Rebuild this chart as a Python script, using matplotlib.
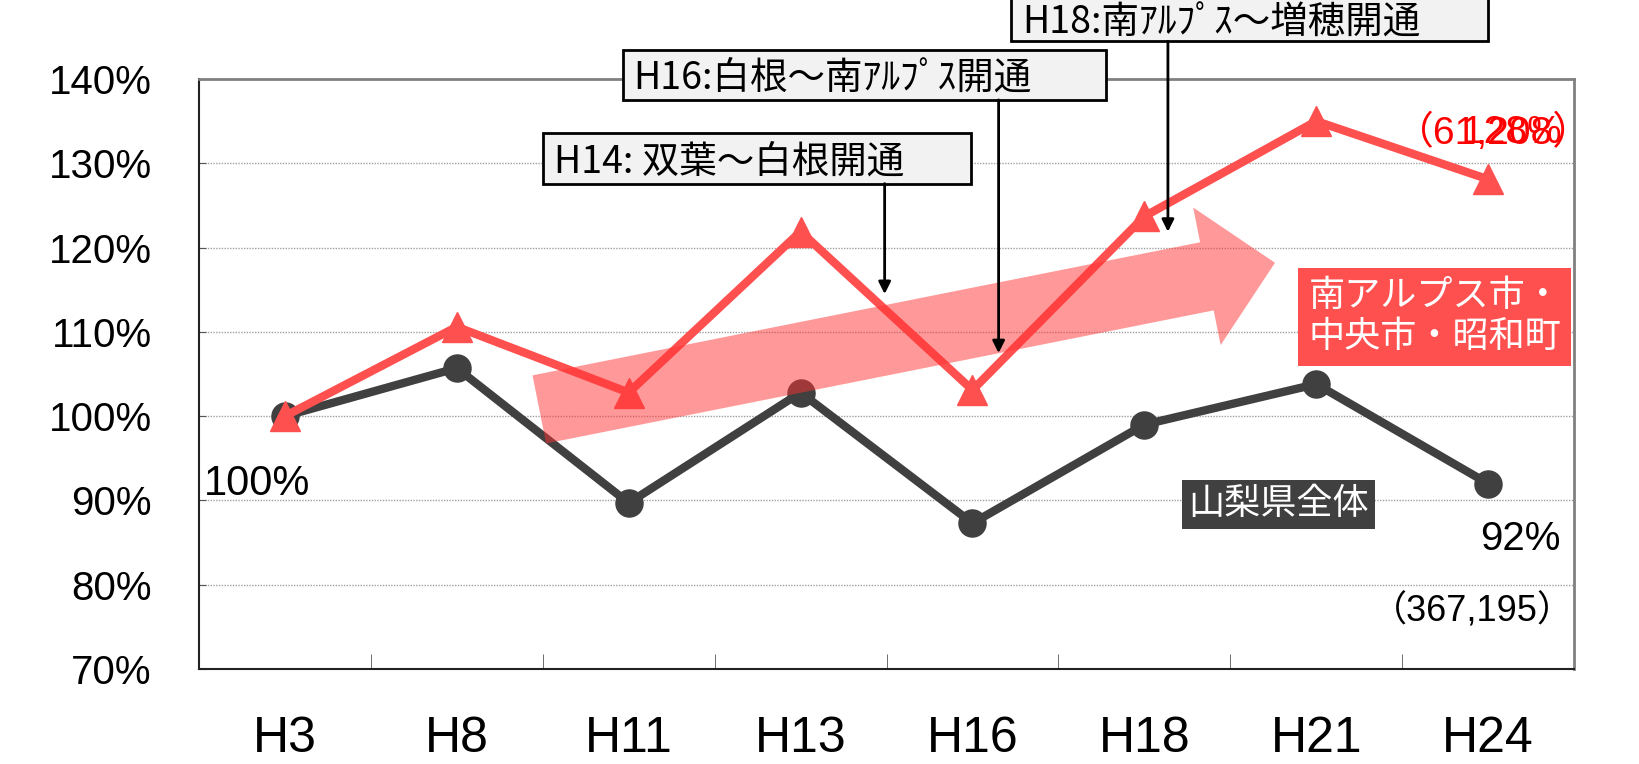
import matplotlib
matplotlib.use("Agg")
import matplotlib.pyplot as plt
from matplotlib.patches import FancyArrowPatch, Rectangle, ArrowStyle

plt.rcParams['font.family'] = ['Liberation Sans', 'Noto Sans CJK JP', 'DejaVu Sans']
JP = ['Noto Sans CJK JP', 'DejaVu Sans']
NARROW = ['Liberation Sans Narrow', 'Liberation Sans', 'Noto Sans CJK JP']

years = ['H3', 'H8', 'H11', 'H13', 'H16', 'H18', 'H21', 'H24']
minami = [100.0, 110.6, 102.8, 121.9, 103.1, 123.7, 135.0, 128.1]   # 南アルプス市・中央市・昭和町
kenzen = [100.0, 105.7, 89.7, 102.8, 87.3, 99.0, 103.8, 92.0]       # 山梨県全体
yticks = [70, 80, 90, 100, 110, 120, 130, 140]

RED = '#FF5050'
DARK = '#404040'

fig = plt.figure(figsize=(16.39, 7.64), dpi=100)
ax = fig.add_axes([0.1214, 0.1243, 0.839, 0.7723])
x = list(range(len(years)))

ax.plot(x, kenzen, color=DARK, lw=6, marker='o', ms=19.5, zorder=3)
ax.plot(x, minami, color=RED, lw=6, marker='^', ms=22, zorder=3)

ax.set_xlim(-0.5, 7.5)
ax.set_ylim(70, 140)
ax.set_yticks(yticks)
ax.set_yticklabels([f'{v}%' for v in yticks], fontsize=29)
ax.set_xticks(x)
ax.set_xticklabels(years, fontsize=36, family=NARROW)
ax.set_xticks([i + 0.5 for i in range(7)], minor=True)
ax.tick_params(axis='x', which='major', length=0, pad=34)
ax.tick_params(axis='x', which='minor', direction='in', length=11, color='#555555')
ax.tick_params(axis='y', direction='in', length=5, pad=34, color='#555555')
for v in yticks[1:-1]:
    ax.axhline(v, color='#A0A0A0', lw=1, ls=(0, (1, 1)), zorder=1)
for s in ['top', 'right']:
    ax.spines[s].set_color('#808080')
    ax.spines[s].set_linewidth(2)
for s in ['left', 'bottom']:
    ax.spines[s].set_color('#222222')
    ax.spines[s].set_linewidth(1.5)

# big trend arrow
arr = FancyArrowPatch((1.48, 100.8), (5.76, 118.2),
                      arrowstyle=ArrowStyle.Simple(head_length=50, head_width=101, tail_width=50),
                      mutation_scale=1, shrinkA=0, shrinkB=0,
                      fc='#FF3333', ec='none', alpha=0.5, zorder=4)
ax.add_patch(arr)

# event annotations: label, box (x, y, w, h), text shift, arrow x, arrow end y
events = [
    ('H14: 双葉〜白根開通', (1.502, 127.59, 2.492, 5.96), -0.4, 3.489, 114.49),
    ('H16:白根〜南ｱﾙﾌﾟｽ開通', (1.964, 137.52, 2.814, 5.96), -0.4, 4.152, 107.48),
    ('H18:南ｱﾙﾌﾟｽ〜増穂開通', (4.225, 144.47, 2.772, 6.0), -0.8, 5.137, 121.88),
]
for label, (bx, by, bw, bh), dy, ax_x, ay in events:
    ax.add_patch(Rectangle((bx, by), bw, bh, fc='#F2F2F2', ec='black', lw=2,
                           clip_on=False, zorder=6))
    ax.text(bx + 0.065, by + bh / 2 + dy, label, fontsize=27, family=JP,
            ha='left', va='center', zorder=7, clip_on=False)
    ax.annotate('', xy=(ax_x, ay), xytext=(ax_x, by),
                arrowprops=dict(arrowstyle='-|>', color='black', lw=2, mutation_scale=18,
                                shrinkA=0, shrinkB=0),
                zorder=6, annotation_clip=False)

# series labels
ax.text(6.69, 111.8, '南アルプス市・\n中央市・昭和町', fontsize=26, family=JP, color='white',
        ha='center', va='center', linespacing=1.2, zorder=7,
        bbox=dict(boxstyle='square,pad=0.28', fc=RED, ec='none'))
ax.text(5.78, 89.55, '山梨県全体', fontsize=26, family=JP, color='white',
        ha='center', va='center', zorder=7,
        bbox=dict(boxstyle='square,pad=0.18', fc=DARK, ec='none'))

# value labels
ax.text(-0.47, 91.97, '100%', fontsize=30, ha='left', va='center', zorder=7)
ax.text(7.19, 85.4, '92%', fontsize=29, ha='center', va='center', zorder=7)
ax.text(6.91, 76.8, '（367,195）', fontsize=26, family=['Liberation Sans', 'Noto Sans CJK JP'],
        ha='center', va='center', zorder=7)
ax.text(7.03, 133.6, '（61,208）', fontsize=28, color='red', family=['Liberation Sans', 'Noto Sans CJK JP'],
        ha='center', va='center', zorder=7, clip_on=False)
ax.text(7.14, 133.6, '128%', fontsize=28, color='red', ha='center', va='center', zorder=7)

fig.savefig('out.png', dpi=100)
